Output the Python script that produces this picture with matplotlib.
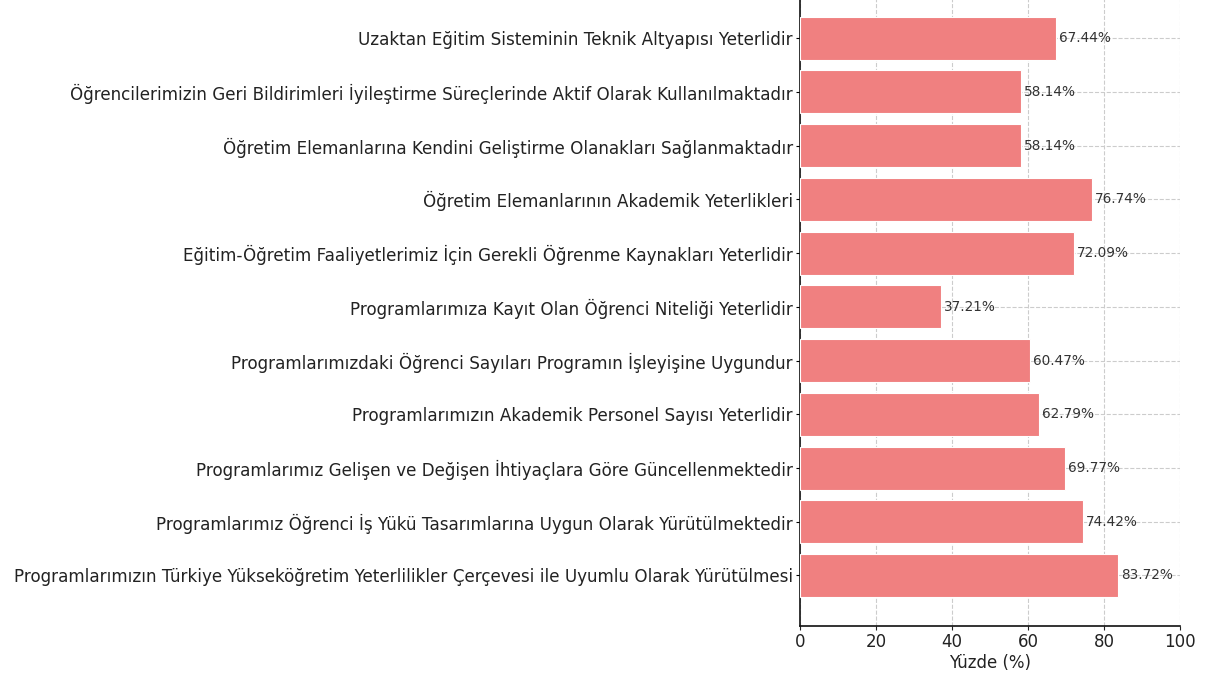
import matplotlib
matplotlib.use("Agg")
import matplotlib.pyplot as plt
import numpy as np

# items from bottom to top as drawn
items = [
    "Programlarımızın Türkiye Yükseköğretim Yeterlilikler Çerçevesi ile Uyumlu Olarak Yürütülmesi",
    "Programlarımız Öğrenci İş Yükü Tasarımlarına Uygun Olarak Yürütülmektedir",
    "Programlarımız Gelişen ve Değişen İhtiyaçlara Göre Güncellenmektedir",
    "Programlarımızın Akademik Personel Sayısı Yeterlidir",
    "Programlarımızdaki Öğrenci Sayıları Programın İşleyişine Uygundur",
    "Programlarımıza Kayıt Olan Öğrenci Niteliği Yeterlidir",
    "Eğitim-Öğretim Faaliyetlerimiz İçin Gerekli Öğrenme Kaynakları Yeterlidir",
    "Öğretim Elemanlarının Akademik Yeterlikleri",
    "Öğretim Elemanlarına Kendini Geliştirme Olanakları Sağlanmaktadır",
    "Öğrencilerimizin Geri Bildirimleri İyileştirme Süreçlerinde Aktif Olarak Kullanılmaktadır",
    "Uzaktan Eğitim Sisteminin Teknik Altyapısı Yeterlidir",
]
percent = [83.72, 74.42, 69.77, 62.79, 60.47, 37.21, 72.09, 76.74, 58.14, 58.14, 67.44]

fig = plt.figure(figsize=(12.07, 6.79), dpi=100)
ax = fig.add_axes([0.6628, 0.0781, 0.3148, 0.94])

y = np.arange(len(items))
bars = ax.barh(y, percent, height=0.8, color="lightcoral", edgecolor="white", linewidth=0.8, zorder=3)

for b, v in zip(bars, percent):
    ax.text(b.get_width() + 0.8, b.get_y() + b.get_height() / 2, f"{v:.2f}%",
            va="center", ha="left", fontsize=9.8, color="#333333", zorder=4)

ax.set_yticks(y)
ax.set_yticklabels(items, fontsize=12.1, color="#222222")
ax.tick_params(axis="y", length=3, pad=2)
ax.set_xlim(0, 100)
ax.set_xticks([0, 20, 40, 60, 80, 100])
ax.tick_params(axis="x", labelsize=12, colors="#222222", length=3, pad=2)
ax.set_xlabel("Yüzde (%)", fontsize=12, color="#222222", labelpad=2)
ax.grid(True, linestyle="--", color="#cccccc", linewidth=0.8, zorder=0)
ax.spines["top"].set_visible(False)
ax.spines["right"].set_visible(False)
ax.spines["left"].set_color("#111111")
ax.spines["bottom"].set_color("#111111")
ax.spines["left"].set_linewidth(1.2)
ax.spines["bottom"].set_linewidth(1.2)

fig.savefig("out.png", dpi=100)
